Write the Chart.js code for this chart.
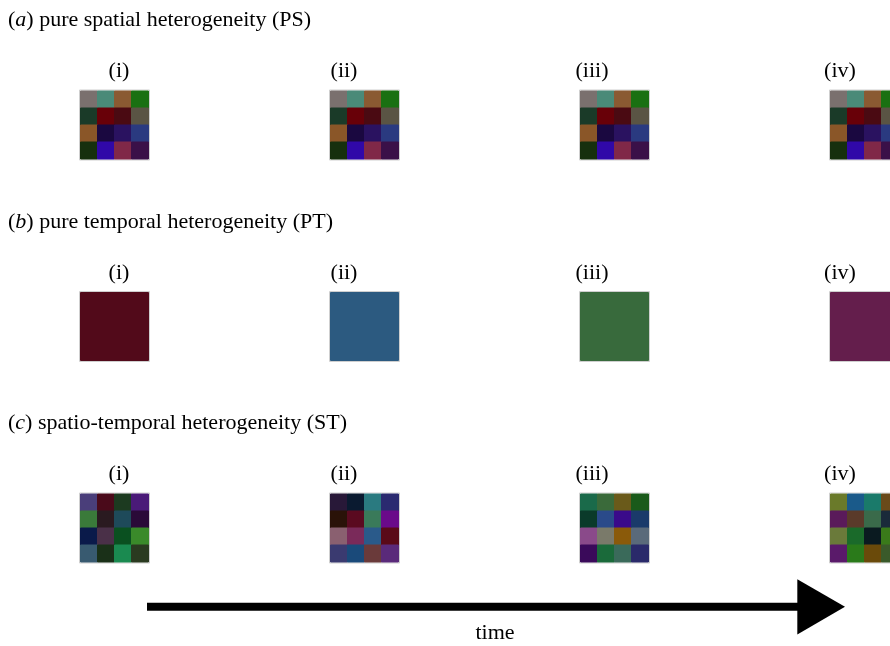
<!DOCTYPE html>
<html>
<head>
<meta charset="utf-8">
<script src="https://cdn.jsdelivr.net/npm/chart.js@4/dist/chart.umd.min.js"></script>
<style>
  html, body { margin: 0; padding: 0; background: #ffffff; }
  #wrap { width: 890px; height: 646px; position: relative; }
</style>
</head>
<body>
<div id="wrap"><canvas id="c" width="890" height="646"></canvas></div>
<script>
// ---------------- data ----------------
const timeSteps = [0, 1, 2, 3];
const stepLabels = ['(i)', '(ii)', '(iii)', '(iv)'];
const panelLetters = ['a', 'b', 'c'];
const panelTitles = [' pure spatial heterogeneity (PS)', ' pure temporal heterogeneity (PT)', ' spatio-temporal heterogeneity (ST)'];
const axisLabel = 'time';

// (a) PS: one 4x4 pattern, identical at every time step (row by row)
const psGrid = [
  '#7a706e', '#4a8a78', '#8a5a32', '#1a7012',
  '#1a3a28', '#680008', '#4a0a12', '#5a5444',
  '#8a5628', '#1a0840', '#2a1260', '#2a3a80',
  '#16300e', '#3008a8', '#802848', '#3a1048'
];
// (b) PT: one uniform colour per time step
const ptColors = ['#520a1a', '#2c5a80', '#386a3c', '#641e4c'];
// (c) ST: a different 4x4 pattern at each time step
const stGrids = [
  ['#4a3e7a', '#4a0a1a', '#1c3a20', '#4a1a78',
   '#3a7a3a', '#2a1a20', '#1e4a5a', '#2a0a38',
   '#0a1a4a', '#4a3048', '#0a5020', '#3a8a2a',
   '#385a70', '#1a3018', '#1a8a50', '#2a3a20'],
  ['#281838', '#0a1a30', '#2a7a80', '#2a2a70',
   '#2a1208', '#5a0a20', '#3a7a5a', '#6a0a8a',
   '#8a6070', '#7a2a5a', '#2a5a8a', '#5a0a18',
   '#3a3a70', '#1a4a7a', '#6a3a3a', '#5a2a7a'],
  ['#1a6a4a', '#3a6a3a', '#6a5a1a', '#1a5a1a',
   '#0a3a2a', '#2a4a8a', '#3a0a8a', '#1a3a6a',
   '#8a4a8a', '#7a7a6a', '#8a5a0a', '#5a6a7a',
   '#3a0a5a', '#1a6a3a', '#3a6a5a', '#2a2a6a'],
  ['#6a7a2a', '#1a5a8a', '#1a7a6a', '#6a4a1a',
   '#5a1a5a', '#5a3a2a', '#3a6a4a', '#1a2a3a',
   '#6a7a3a', '#1a6a2a', '#0a1a20', '#3a7a1a',
   '#5a1a6a', '#2a7a1a', '#6a4a0a', '#3a5a2a']
];
// time arrow: start and tip (in time-step units) and its row
const arrowFrom = 0.266;
const arrowTo = 3.058;
const arrowRow = 2.56;

// ---------------- layout ----------------
const STEP_PX = 250;      // px per time step
const X0_PX = 80.5;       // px of time step 0 grid left
const PANEL_PX = 201.5;   // px per panel
const Y0_PX = 91;         // px of first panel grid top
const CELL_PX = 17;
const W = 890, H = 646;
const cellX = CELL_PX / STEP_PX;
const cellY = CELL_PX / PANEL_PX;

function gridPoints(t, p, colors) {
  const pts = [];
  for (let r = 0; r < 4; r++) for (let c = 0; c < 4; c++) {
    pts.push({ x: t + (c + 0.5) * cellX, y: p + (r + 0.5) * cellY, col: colors[r * 4 + c] });
  }
  return pts;
}

const datasets = [];
function addGrid(pts, radius) {
  datasets.push({
    type: 'scatter',
    data: pts.map(q => ({ x: q.x, y: q.y })),
    pointStyle: 'rect',
    pointRadius: radius,
    pointBackgroundColor: pts.map(q => q.col),
    pointBorderColor: pts.map(q => q.col),
    pointBorderWidth: 1
  });
}
timeSteps.forEach(t => addGrid(gridPoints(t, 0, psGrid), CELL_PX / Math.SQRT2));
timeSteps.forEach(t => addGrid([{ x: t + 2 * cellX, y: 1 + 2 * cellY, col: ptColors[t] }], 4 * CELL_PX / Math.SQRT2));
timeSteps.forEach(t => addGrid(gridPoints(t, 2, stGrids[t]), CELL_PX / Math.SQRT2));

// thin light outline around every grid
const panels = [0, 1, 2];
datasets.push({
  type: 'scatter',
  data: panels.flatMap(p => timeSteps.map(t => ({ x: t + 2 * cellX, y: p + 2 * cellY }))),
  pointStyle: 'rect',
  pointRadius: (4 * CELL_PX + 2) / Math.SQRT2,
  pointBackgroundColor: 'rgba(0,0,0,0)',
  pointBorderColor: '#cfcfcf',
  pointBorderWidth: 1
});

// arrow: shaft + triangular head
const headR = 31.8;
datasets.push({
  type: 'line',
  data: [{ x: arrowFrom, y: arrowRow }, { x: arrowTo - headR / STEP_PX, y: arrowRow }],
  borderColor: '#000000',
  borderWidth: 8,
  borderCapStyle: 'butt',
  pointStyle: 'triangle',
  rotation: 90,
  pointRadius: [0, headR],
  pointBackgroundColor: '#000000',
  pointBorderColor: '#000000',
  pointBorderWidth: 0,
  tension: 0
});

const SERIF = '"Liberation Serif", "DejaVu Serif", serif';
const textPlugin = {
  id: 'texts',
  afterDraw(chart) {
    const ctx = chart.ctx;
    const xs = chart.scales.x, ys = chart.scales.y;
    ctx.save();
    ctx.fillStyle = '#000';
    ctx.textBaseline = 'alphabetic';
    const fs = 22;
    const offs = [38.5, 13.5, 11.5, 9.5];
    panelLetters.forEach((L, p) => {
      const gy = ys.getPixelForValue(p);
      const by = gy - 65;
      let x = 8;
      ctx.textAlign = 'left';
      ctx.font = fs + 'px ' + SERIF;
      ctx.fillText('(', x, by); x += ctx.measureText('(').width;
      ctx.font = 'italic ' + fs + 'px ' + SERIF;
      ctx.fillText(L, x, by); x += ctx.measureText(L).width;
      ctx.font = fs + 'px ' + SERIF;
      ctx.fillText(')' + panelTitles[p], x, by);
      ctx.textAlign = 'center';
      timeSteps.forEach(t => {
        ctx.fillText(stepLabels[t], xs.getPixelForValue(t) + offs[t], gy - 14);
      });
    });
    ctx.textAlign = 'center';
    ctx.font = fs + 'px ' + SERIF;
    ctx.fillText(axisLabel, xs.getPixelForValue(1.658), ys.getPixelForValue(arrowRow) + 32);
    ctx.restore();
  }
};

new Chart(document.getElementById('c'), {
  data: { datasets },
  options: {
    responsive: false,
    animation: false,
    events: [],
    layout: { padding: 0, autoPadding: false },
    plugins: { legend: { display: false }, tooltip: { enabled: false }, title: { display: false } },
    scales: {
      x: { type: 'linear', display: false, min: -X0_PX / STEP_PX, max: (W - X0_PX) / STEP_PX },
      y: { type: 'linear', display: false, reverse: true, min: -Y0_PX / PANEL_PX, max: (H - Y0_PX) / PANEL_PX }
    }
  },
  plugins: [textPlugin]
});
</script>
</body>
</html>
